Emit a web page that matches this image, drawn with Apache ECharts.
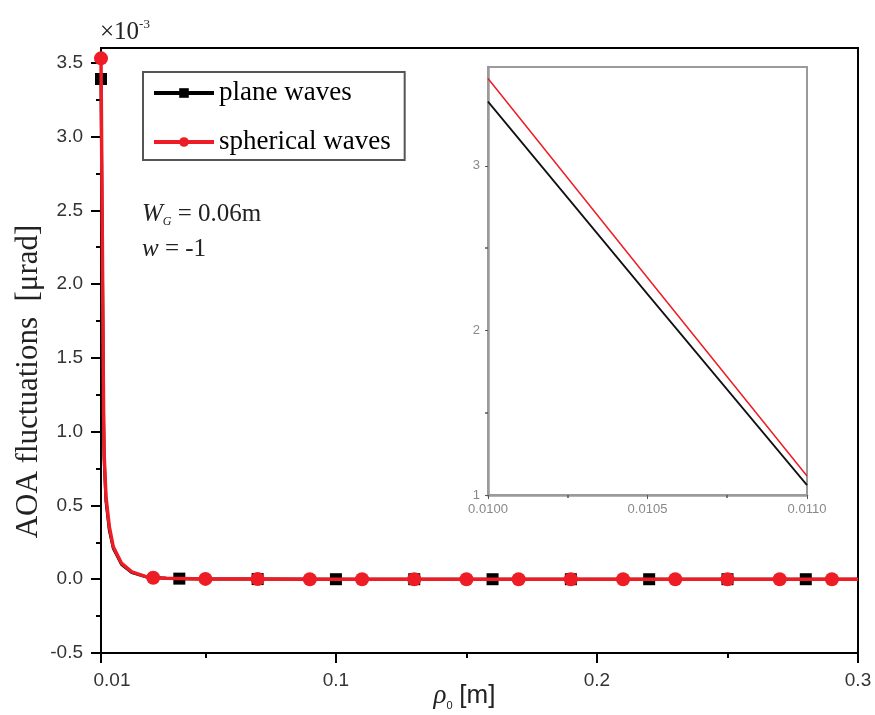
<!DOCTYPE html>
<html>
<head>
<meta charset="utf-8">
<script src="https://cdn.jsdelivr.net/npm/echarts@6/dist/echarts.min.js"></script>
<style>
html,body{margin:0;padding:0;background:#fff;}
#chart{width:875px;height:715px;}
</style>
</head>
<body>
<div id="chart"></div>
<script>
// ---- data (y in units of 1e-3 µrad) ----
const seriesNames = ['plane waves', 'spherical waves'];

const curveX      = [0.0100, 0.0105, 0.0110, 0.0112, 0.0119, 0.0132, 0.0147, 0.0179, 0.0218, 0.0275, 0.0350, 0.0500, 0.1000, 0.2000, 0.3000];
const planeY      = [3.39,   2.22,   1.06,   0.82,   0.53,   0.33,   0.21,   0.100,  0.045,  0.015,  0.006,  0.002,  0.000,  0.000,  0.000];
const sphericalY  = [3.53,   2.32,   1.115,  0.85,   0.56,   0.355,  0.22,   0.107,  0.050,  0.016,  0.007,  0.002,  0.000,  0.000,  0.000];

const planeMarkerX = [0.01, 0.04, 0.07, 0.10, 0.13, 0.16, 0.19, 0.22, 0.25, 0.28];
const planeMarkerY = [3.39, 0.004, 0.001, 0, 0, 0, 0, 0, 0, 0];
const sphMarkerX   = [0.01, 0.03, 0.05, 0.07, 0.09, 0.11, 0.13, 0.15, 0.17, 0.19, 0.21, 0.23, 0.25, 0.27, 0.29];
const sphMarkerY   = [3.53, 0.010, 0.002, 0.001, 0, 0, 0, 0, 0, 0, 0, 0, 0, 0, 0];

// inset (zoom of 0.0100 .. 0.0110)
const insetX          = [0.0100, 0.0105, 0.0110];
const insetPlaneY     = [3.39,   2.22,   1.06];
const insetSphericalY = [3.53,   2.32,   1.115];

// tick values / labels
const xMajorTicks = [0.01, 0.1, 0.2, 0.3];
const xTickLabels = ['0.01', '0.1', '0.2', '0.3'];
const xMinorTicks = [0.05, 0.15, 0.25];
const yMajorTicks = [-0.5, 0.0, 0.5, 1.0, 1.5, 2.0, 2.5, 3.0, 3.5];
const yMinorTicks = [-0.25, 0.25, 0.75, 1.25, 1.75, 2.25, 2.75, 3.25];
const insetXTicks = [0.0100, 0.0105, 0.0110];
const insetXMinor = [0.01025, 0.01075];
const insetYTicks = [1, 2, 3];
const insetYMinor = [1.5, 2.5];

// ---- build series data (curve points + marker points, markers carry symbols) ----
function buildData(cx, cy, mx, my, sym) {
  const items = cx.map((x, i) => ({ value: [x, cy[i]], symbol: 'none' }));
  mx.forEach((x, i) => {
    const same = items.find(it => Math.abs(it.value[0] - x) < 1e-9);
    if (same) same.symbol = sym;
    else items.push({ value: [x, my[i]], symbol: sym });
  });
  items.sort((a, b) => a.value[0] - b.value[0]);
  return items;
}
const planeData = buildData(curveX, planeY, planeMarkerX, planeMarkerY, 'rect');
const sphData = buildData(curveX, sphericalY, sphMarkerX, sphMarkerY, 'circle');

const BLACK = '#000000';
const RED = '#ee1c25';
const GRAY = '#9a9a9a';

const labelFont = { fontFamily: 'Liberation Sans', fontSize: 19, color: '#333' };
const insetLabelFont = { fontFamily: 'Liberation Sans', fontSize: 13, color: '#888' };

const chart = echarts.init(document.getElementById('chart'), null, { renderer: 'canvas' });
const option = {
  animation: false,
  backgroundColor: '#fff',
  grid: [
    { left: 101, top: 48, right: 17, bottom: 62, show: true, borderColor: BLACK, borderWidth: 2, outerBoundsMode: 'none', containLabel: false },
    { left: 488, top: 67, right: 68, bottom: 220, show: true, borderColor: GRAY, borderWidth: 2, backgroundColor: '#fff', outerBoundsMode: 'none', containLabel: false }
  ],
  legend: {
    data: seriesNames,
    orient: 'vertical',
    left: 143, top: 72,
    padding: [6, 14, 3, 9],
    itemGap: 19,
    itemWidth: 60,
    itemHeight: 12,
    borderColor: '#555', borderWidth: 2, borderRadius: 0,
    backgroundColor: '#fff',
    lineStyle: { width: 4 },
    textStyle: { fontFamily: 'Liberation Serif', fontSize: 27, color: '#000', lineHeight: 30 }
  },
  xAxis: [
    {
      gridIndex: 0, type: 'value', position: 'bottom', min: 0.01, max: 0.3,
      axisLine: { onZero: false, lineStyle: { color: BLACK, width: 2 } },
      axisTick: { customValues: xMajorTicks, length: 10, lineStyle: { color: BLACK, width: 2 } },
      axisLabel: Object.assign({
        customValues: xMajorTicks, margin: 18,
        formatter: v => {
          const i = xMajorTicks.findIndex(t => Math.abs(t - v) < 1e-9);
          const s = i >= 0 ? xTickLabels[i] : '';
          return i === 0 ? '{f|' + s + '}' : s;
        },
        rich: { f: { padding: [0, 0, 0, 22], fontFamily: 'Liberation Sans', fontSize: 19, color: '#333' } }
      }, labelFont),
      splitLine: { show: false },
      name: '{r|ρ}{s|0}  {m|[m]}',
      nameLocation: 'middle', nameGap: 28, nameMoveOverlap: false,
      nameTextStyle: {
        padding: [0, 30, 0, 0],
        rich: {
          r: { fontFamily: 'Liberation Serif', fontStyle: 'italic', fontSize: 27, color: '#222', lineHeight: 30 },
          s: { fontFamily: 'Liberation Sans', fontSize: 11, color: '#222', lineHeight: 10, verticalAlign: 'bottom' },
          m: { fontFamily: 'Liberation Sans', fontSize: 26, color: '#222', lineHeight: 30 }
        }
      }
    },
    {
      gridIndex: 0, type: 'value', position: 'bottom', min: 0.01, max: 0.3,
      axisLine: { show: false, onZero: false },
      axisTick: { customValues: xMinorTicks, length: 5, lineStyle: { color: BLACK, width: 2 } },
      axisLabel: { show: false }, splitLine: { show: false }
    },
    {
      gridIndex: 1, type: 'value', position: 'bottom', min: 0.0100, max: 0.0110,
      axisLine: { onZero: false, lineStyle: { color: GRAY, width: 2.5 } },
      axisTick: { customValues: insetXTicks, length: 4, lineStyle: { color: '#555', width: 1 } },
      axisLabel: Object.assign({ customValues: insetXTicks, formatter: v => v.toFixed(4), margin: 8 }, insetLabelFont),
      splitLine: { show: false }
    },
    {
      gridIndex: 1, type: 'value', position: 'bottom', min: 0.0100, max: 0.0110,
      axisLine: { show: false, onZero: false },
      axisTick: { customValues: insetXMinor, length: 3, lineStyle: { color: '#555', width: 1.5 } },
      axisLabel: { show: false }, splitLine: { show: false }
    }
  ],
  yAxis: [
    {
      gridIndex: 0, type: 'value', position: 'left', min: -0.5, max: 3.6,
      axisLine: { show: true, onZero: false, lineStyle: { color: BLACK, width: 2 } },
      axisTick: { show: true, customValues: yMajorTicks, length: 10, lineStyle: { color: BLACK, width: 2 } },
      axisLabel: Object.assign({ customValues: yMajorTicks, margin: 18, formatter: v => v.toFixed(1) }, labelFont),
      splitLine: { show: false },
      name: 'AOA fluctuations  [μrad]',
      nameLocation: 'middle', nameRotate: 90, nameGap: 57, nameMoveOverlap: false,
      nameTextStyle: { fontFamily: 'Liberation Serif', fontSize: 31, color: '#222', padding: [0, 62, 0, 0] }
    },
    {
      gridIndex: 0, type: 'value', position: 'left', min: -0.5, max: 3.6,
      axisLine: { show: false, onZero: false },
      axisTick: { show: true, customValues: yMinorTicks, length: 5, lineStyle: { color: BLACK, width: 2 } },
      axisLabel: { show: false }, splitLine: { show: false }
    },
    {
      gridIndex: 1, type: 'value', position: 'left', min: 1, max: 3.6,
      axisLine: { show: true, onZero: false, lineStyle: { color: GRAY, width: 2.5 } },
      axisTick: { show: true, customValues: insetYTicks, length: 3, lineStyle: { color: '#555', width: 1 } },
      axisLabel: Object.assign({ customValues: insetYTicks, margin: 8 }, insetLabelFont),
      splitLine: { show: false }
    },
    {
      gridIndex: 1, type: 'value', position: 'left', min: 1, max: 3.6,
      axisLine: { show: false, onZero: false },
      axisTick: { show: true, customValues: insetYMinor, length: 3, lineStyle: { color: '#555', width: 1.5 } },
      axisLabel: { show: false }, splitLine: { show: false }
    }
  ],
  series: [
    {
      name: seriesNames[0], type: 'line', xAxisIndex: 0, yAxisIndex: 0,
      data: planeData, color: BLACK,
      symbol: 'rect', symbolSize: 12, showSymbol: true, showAllSymbol: true,
      smooth: false,
      lineStyle: { color: BLACK, width: 3 }, itemStyle: { color: BLACK }, z: 3
    },
    {
      name: seriesNames[1], type: 'line', xAxisIndex: 0, yAxisIndex: 0,
      data: sphData, color: RED,
      symbol: 'circle', symbolSize: 14, showSymbol: true, showAllSymbol: true,
      smooth: false,
      lineStyle: { color: RED, width: 3.5 }, itemStyle: { color: RED }, z: 4
    },
    {
      name: 'inset plane', type: 'line', xAxisIndex: 2, yAxisIndex: 2,
      data: insetX.map((x, i) => [x, insetPlaneY[i]]),
      showSymbol: false, symbol: 'none', lineStyle: { color: '#111', width: 1.8 }, z: 5
    },
    {
      name: 'inset spherical', type: 'line', xAxisIndex: 2, yAxisIndex: 2,
      data: insetX.map((x, i) => [x, insetSphericalY[i]]),
      showSymbol: false, symbol: 'none', lineStyle: { color: RED, width: 1.5 }, z: 6
    }
  ],
  graphic: [
    {
      type: 'text', x: 100, y: 32,
      style: {
        text: '{a|×10}{b|-3}',
        verticalAlign: 'middle', align: 'left',
        rich: {
          a: { fontFamily: 'Liberation Serif', fontSize: 25, fill: '#222', lineHeight: 28 },
          b: { fontFamily: 'Liberation Serif', fontSize: 13, fill: '#222', lineHeight: 14, verticalAlign: 'top' }
        }
      }
    },
    {
      type: 'text', x: 142, y: 214,
      style: {
        text: '{i|W}{s|G}{n| = 0.06m}',
        verticalAlign: 'middle', align: 'left',
        rich: {
          i: { fontFamily: 'Liberation Serif', fontStyle: 'italic', fontSize: 25, fill: '#222', lineHeight: 28 },
          s: { fontFamily: 'Liberation Serif', fontStyle: 'italic', fontSize: 12, fill: '#222', lineHeight: 12, verticalAlign: 'bottom' },
          n: { fontFamily: 'Liberation Serif', fontSize: 25, fill: '#222', lineHeight: 28 }
        }
      }
    },
    {
      type: 'text', x: 142, y: 249,
      style: {
        text: '{i|w}{n| = -1}',
        verticalAlign: 'middle', align: 'left',
        rich: {
          i: { fontFamily: 'Liberation Serif', fontStyle: 'italic', fontSize: 25, fill: '#222', lineHeight: 28 },
          n: { fontFamily: 'Liberation Serif', fontSize: 25, fill: '#222', lineHeight: 28 }
        }
      }
    }
  ]
};
chart.setOption(option);
</script>
</body>
</html>
